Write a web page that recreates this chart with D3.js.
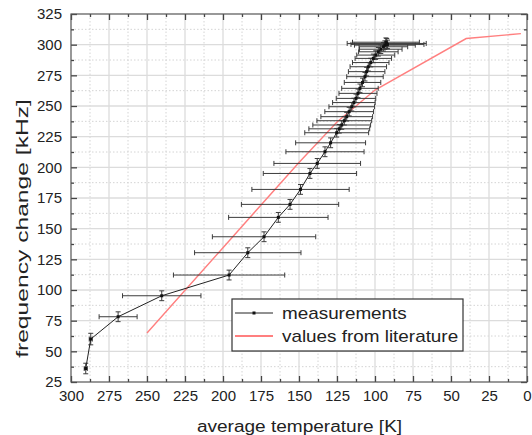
<!DOCTYPE html>
<html>
<head>
<meta charset="utf-8">
<script src="https://cdn.jsdelivr.net/npm/d3@7"></script>
<style>
  body { margin: 0; background: #fff; }
  svg { display: block; }
  text { font-family: "Liberation Sans", Arial, Helvetica, sans-serif; fill: #222; }
</style>
</head>
<body>
<svg id="chart" width="532" height="435"></svg>
<script>
// Axis ticks
const tempTicks = d3.range(300, -1, -25);
const freqTicks = d3.range(25, 326, 25);

// Measurements: average temperature [K], frequency change [kHz] and their uncertainties
const measTemp    = [290.3, 287.0, 269.0, 240.3, 196.0, 183.7, 173.0, 163.6, 155.9, 149.0, 142.8, 138.0, 132.9, 129.2,
                     125.2, 123.5, 121.9, 120.2, 118.6, 117.0, 115.3, 113.9, 112.5, 111.2, 109.9, 108.2, 106.6, 105.5,
                     104.4, 102.8, 101.1, 99.5, 97.8, 96.2, 94.5, 93.5, 92.3, 91.8, 92.8];
const measFreq    = [36.0, 60.0, 78.2, 95.3, 112.2, 130.4, 143.4, 159.2, 169.8, 182.0, 195.0, 203.2, 212.7, 220.0,
                     228.2, 231.4, 234.5, 238.0, 241.3, 245.4, 249.4, 252.8, 256.2, 260.3, 264.4, 269.2, 273.9, 278.0,
                     282.0, 285.4, 288.8, 291.5, 294.2, 296.3, 298.3, 299.6, 301.0, 300.2, 302.0];
const measTempErr = [1.0, 1.0, 12.5, 25.8, 36.6, 35.0, 34.0, 32.7, 32.0, 32.0, 30.7, 28.5, 25.7, 23.0,
                     21.0, 20.0, 19.0, 18.0, 17.0, 16.0, 15.0, 14.0, 13.0, 12.5, 12.0, 12.0, 12.0, 12.0,
                     12.0, 12.0, 12.0, 12.5, 13.0, 14.0, 16.0, 20.0, 26.0, 24.0, 22.0];
const measFreqErr = [4.3, 4.7, 4.0, 4.0, 4.0, 4.0, 4.0, 4.0, 4.0, 4.0, 4.0, 4.0, 4.0, 4.0,
                     3.5, 3.5, 3.5, 3.5, 3.5, 3.5, 3.5, 3.5, 3.5, 3.5, 3.5, 3.5, 3.5, 3.5,
                     3.5, 3.5, 3.5, 3.5, 3.5, 3.5, 3.5, 3.5, 4.0, 3.5, 3.5];

// Values from literature
const litTemp = [250, 200, 150, 125, 100, 40, 4];
const litFreq = [65, 134.5, 204, 237, 263, 305, 309];

const legendLabels = ["measurements", "values from literature"];

const svg = d3.select("#chart");
const L = 71, R = 527, T = 14, B = 382;

const x = d3.scaleLinear().domain([300, 0]).range([L, R]);
const y = d3.scaleLinear().domain([25, 325]).range([B, T]);

const minorTemp = d3.range(287.5, 0, -25);
const minorFreq = d3.range(37.5, 325, 25);

// grid
const grid = svg.append("g");
grid.selectAll(".gxm").data(minorTemp).join("line")
  .attr("x1", d => x(d)).attr("x2", d => x(d)).attr("y1", T).attr("y2", B)
  .attr("stroke", "#d4d4d4").attr("stroke-width", 1).attr("stroke-dasharray", "1.5,2");
grid.selectAll(".gym").data(minorFreq).join("line")
  .attr("y1", d => y(d)).attr("y2", d => y(d)).attr("x1", L).attr("x2", R)
  .attr("stroke", "#d4d4d4").attr("stroke-width", 1).attr("stroke-dasharray", "1.5,2");
grid.selectAll(".gx").data(tempTicks.slice(1, -1)).join("line")
  .attr("x1", d => x(d)).attr("x2", d => x(d)).attr("y1", T).attr("y2", B)
  .attr("stroke", "#dcdcdc").attr("stroke-width", 1.3);
grid.selectAll(".gy").data(freqTicks.slice(1, -1)).join("line")
  .attr("y1", d => y(d)).attr("y2", d => y(d)).attr("x1", L).attr("x2", R)
  .attr("stroke", "#dcdcdc").attr("stroke-width", 1.3);

// axes with inward ticks on all four sides
function styleAxis(g) {
  g.select(".domain").remove();
  g.selectAll(".tick line").attr("stroke", "#444").attr("stroke-width", 1.3);
}
const xBottom = d3.axisBottom(x).tickValues(tempTicks).tickSizeInner(-6).tickSizeOuter(0).tickPadding(8).tickFormat(d3.format("d"));
svg.append("g").attr("transform", `translate(0,${B})`).call(xBottom).call(styleAxis)
  .selectAll("text").attr("font-size", 15).attr("fill", "#222");
svg.append("g").attr("transform", `translate(0,${B})`)
  .call(d3.axisBottom(x).tickValues(minorTemp).tickSize(-3).tickFormat(""))
  .call(styleAxis);
svg.append("g").attr("transform", `translate(0,${T})`)
  .call(d3.axisTop(x).tickValues(tempTicks).tickSize(-6).tickFormat(""))
  .call(styleAxis);
svg.append("g").attr("transform", `translate(0,${T})`)
  .call(d3.axisTop(x).tickValues(minorTemp).tickSize(-3).tickFormat(""))
  .call(styleAxis);

const yLeft = d3.axisLeft(y).tickValues(freqTicks).tickSizeInner(-6).tickSizeOuter(0).tickPadding(9).tickFormat(d3.format("d"));
svg.append("g").attr("transform", `translate(${L},0)`).call(yLeft).call(styleAxis)
  .selectAll("text").attr("font-size", 15).attr("fill", "#222");
svg.append("g").attr("transform", `translate(${L},0)`)
  .call(d3.axisLeft(y).tickValues(minorFreq).tickSize(-3).tickFormat(""))
  .call(styleAxis);
svg.append("g").attr("transform", `translate(${R},0)`)
  .call(d3.axisRight(y).tickValues(freqTicks).tickSize(-6).tickFormat(""))
  .call(styleAxis);
svg.append("g").attr("transform", `translate(${R},0)`)
  .call(d3.axisRight(y).tickValues(minorFreq).tickSize(-3).tickFormat(""))
  .call(styleAxis);

// frame
svg.append("rect").attr("x", L).attr("y", T).attr("width", R - L).attr("height", B - T)
  .attr("fill", "none").attr("stroke", "#555").attr("stroke-width", 1.2);

// literature curve
const litData = litTemp.map((t, i) => [t, litFreq[i]]);
svg.append("path").datum(litData)
  .attr("d", d3.line().x(d => x(d[0])).y(d => y(d[1])))
  .attr("fill", "none").attr("stroke", "#ff7f7f").attr("stroke-width", 1.4);

// measurements
const meas = measTemp.map((t, i) => ({ t, f: measFreq[i], et: measTempErr[i], ef: measFreqErr[i] }));
const eb = svg.append("g").attr("stroke", "#3c3c3c").attr("stroke-width", 1).attr("fill", "none");
const cap = 2.5;
meas.forEach(d => {
  const cx = x(d.t), cy = y(d.f);
  const x0 = x(d.t + d.et), x1 = x(d.t - d.et);
  const y0 = y(d.f - d.ef), y1 = y(d.f + d.ef);
  eb.append("path").attr("d",
    `M${x0},${cy}H${x1}M${x0},${cy - cap}V${cy + cap}M${x1},${cy - cap}V${cy + cap}` +
    `M${cx},${y0}V${y1}M${cx - cap},${y0}H${cx + cap}M${cx - cap},${y1}H${cx + cap}`);
});
svg.append("path").datum(meas)
  .attr("d", d3.line().x(d => x(d.t)).y(d => y(d.f)))
  .attr("fill", "none").attr("stroke", "#222").attr("stroke-width", 1);
svg.append("g").selectAll("rect").data(meas).join("rect")
  .attr("x", d => x(d.t) - 1.5).attr("y", d => y(d.f) - 1.5)
  .attr("width", 3).attr("height", 3).attr("fill", "#111");

// legend
const lg = svg.append("g");
lg.append("rect").attr("x", 232).attr("y", 299).attr("width", 231).attr("height", 52)
  .attr("fill", "#fff").attr("stroke", "#333").attr("stroke-width", 1.2);
lg.append("line").attr("x1", 235).attr("x2", 273).attr("y1", 313).attr("y2", 313)
  .attr("stroke", "#222").attr("stroke-width", 1);
lg.append("rect").attr("x", 252.5).attr("y", 311.5).attr("width", 3).attr("height", 3).attr("fill", "#111");
lg.append("line").attr("x1", 235).attr("x2", 273).attr("y1", 336).attr("y2", 336)
  .attr("stroke", "#ff7f7f").attr("stroke-width", 2);
function stretchedText(parent, str, px, py, size, sx, sy, anchor, rot) {
  const g = parent.append("g").attr("transform", `translate(${px},${py})` + (rot ? ` rotate(${rot})` : ""));
  g.append("text").attr("transform", `scale(${sx},${sy})`).attr("text-anchor", anchor)
    .attr("font-size", size).text(str);
}
stretchedText(lg, legendLabels[0], 282, 318.5, 16, 1.18, 1, "start");
stretchedText(lg, legendLabels[1], 282, 341.5, 16, 1.18, 1, "start");

// axis titles
stretchedText(svg, "average temperature [K]", 299.5, 432, 16, 1.19, 1, "middle");
stretchedText(svg, "frequency change [kHz]", 28, 228.5, 17, 1.45, 1, "middle", -90);
</script>
</body>
</html>
